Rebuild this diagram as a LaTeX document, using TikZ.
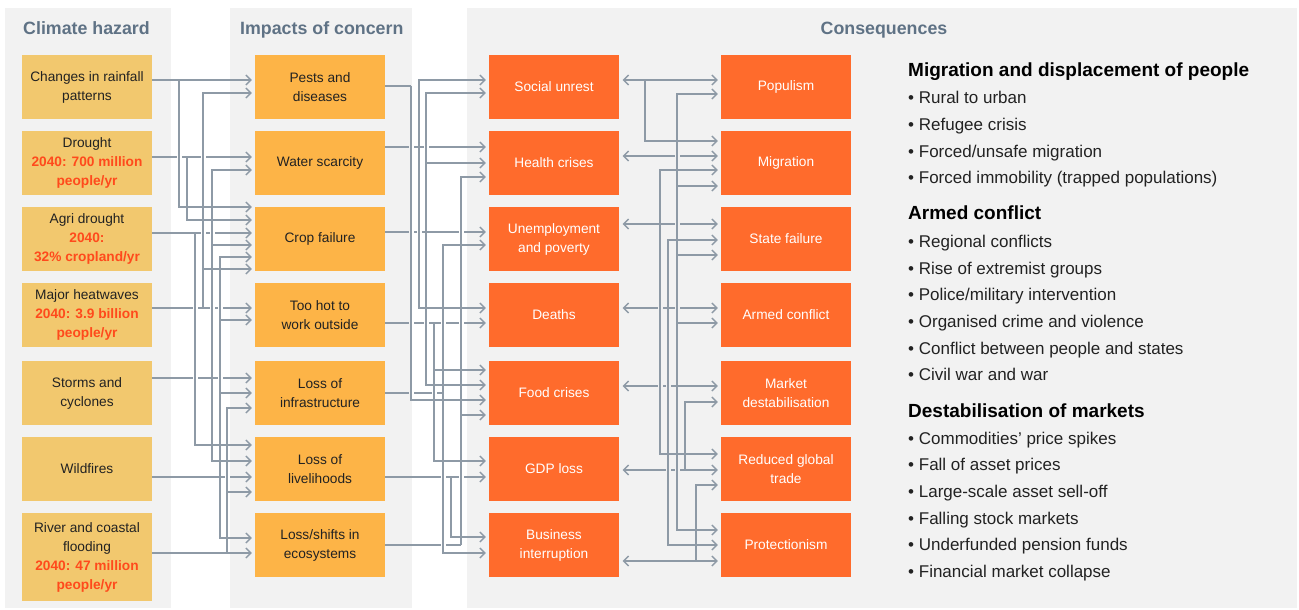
\documentclass[tikz,border=0pt]{standalone}
\usepackage{fontspec}
\setmainfont{Liberation Sans}
\usetikzlibrary{arrows.meta}
\definecolor{panel}{HTML}{F2F2F2}
\definecolor{hzc}{HTML}{F2C86E}
\definecolor{imc}{HTML}{FDB447}
\definecolor{csc}{HTML}{FF6B2C}
\definecolor{redt}{HTML}{FF4A1C}
\definecolor{headc}{HTML}{5F7285}
\definecolor{conn}{HTML}{8E9AA6}
\definecolor{txt}{HTML}{222222}
\newcommand\redl[1]{{\color{redt}\bfseries #1}}
\def\brall{179/80/i3/207, 187/157/i3/220, 195/233/i6/445, 203/308/i1/93, 203/308/i3/269, 212/378/i2/170, 212/378/i3/245, 212/378/i6/461, 220/477/i3/257, 220/477/i4/320, 220/477/i5/393, 220/477/i7/538, 227/553/i5/408, 227/553/i6/492, 411/86/c5/400, 419/147/c1/80, 419/147/c4/308, 426/232/c1/93, 426/232/c2/163, 426/232/c5/385, 434/323/c5/370, 434/323/c6/461, 443/393/c3/245, 443/393/c7/553, 451/477/c7/537, 461/545/c2/177, 461/545/c5/415, 645/80/d2/141, 660/224/d2/170, 660/224/d6/454, 668/308/d3/240, 668/308/d7/545, 677/386/d1/94, 677/386/d2/186, 677/386/d3/255, 677/386/d4/323, 677/386/d7/530, 685/470/d5/402, 696/561/d6/485}
\begin{document}
\begin{tikzpicture}[x=1pt,y=-1pt,
  box/.style={minimum width=130pt, minimum height=64pt, inner sep=0pt, align=center, font=\fontsize{13.7}{19}\selectfont},
  hz/.style={box, fill=hzc, text=txt},
  im/.style={box, fill=imc, text=txt},
  cs/.style={box, fill=csc, text=white},
  head/.style={anchor=base west, inner sep=0pt, font=\fontsize{17.8}{20}\selectfont\bfseries, text=headc},
  ttl/.style={anchor=base west, inner sep=0pt, font=\fontsize{19}{22}\selectfont\bfseries, text=black},
  bul/.style={anchor=base west, inner sep=0pt, font=\fontsize{17}{20}\selectfont, text=txt},
  ln/.style={draw=conn, line width=1.4pt},
  arr/.style={ln, -{Straight Barb[length=5pt,width=10pt]}, shorten >=3pt},
  darr/.style={ln, {Straight Barb[length=5pt,width=10pt]}-{Straight Barb[length=5pt,width=10pt]}, shorten >=3pt, shorten <=3.5pt},
  eras/.style={line width=5pt, shorten <=3pt, shorten >=3pt}
]
\useasboundingbox (0,0) rectangle (1299,610);
% panels
\fill[panel] (5,8) rectangle (171,608);
\fill[panel] (230,8) rectangle (412,608);
\fill[panel] (467,8) rectangle (1297,608);
% headings
\node[head] (t1) at (23,34.5) {Climate hazard};
\node[head] (t2) at (240,34.5) {Impacts of concern};
\node[head, anchor=base] (t3) at (884,34.5) {Consequences};
% column 1
\node[hz] (h1) at (87,87) {Changes in rainfall\\patterns};
\node[hz] (h2) at (87,163) {Drought\\\redl{2040: 700 million}\\\redl{people/yr}};
\node[hz] (h3) at (87,239) {Agri drought\\\redl{2040:}\\\redl{32\% cropland/yr}};
\node[hz] (h4) at (87,315) {Major heatwaves\\\redl{2040: 3.9 billion}\\\redl{people/yr}};
\node[hz] (h5) at (87,393) {Storms and\\cyclones};
\node[hz] (h6) at (87,469) {Wildfires};
\node[hz, minimum height=88pt] (h7) at (87,557) {River and coastal\\flooding\\\redl{2040: 47 million}\\\redl{people/yr}};
% column 2
\node[im] (i1) at (320,87) {Pests and\\diseases};
\node[im] (i2) at (320,163) {Water scarcity};
\node[im] (i3) at (320,239) {Crop failure};
\node[im] (i4) at (320,315) {Too hot to\\work outside};
\node[im] (i5) at (320,393) {Loss of\\infrastructure};
\node[im] (i6) at (320,469) {Loss of\\livelihoods};
\node[im] (i7) at (320,545) {Loss/shifts in\\ecosystems};
% column 3
\node[cs] (c1) at (554,87) {Social unrest};
\node[cs] (c2) at (554,163) {Health crises};
\node[cs] (c3) at (554,239) {Unemployment\\and poverty};
\node[cs] (c4) at (554,315) {Deaths};
\node[cs] (c5) at (554,393) {Food crises};
\node[cs] (c6) at (554,469) {GDP loss};
\node[cs] (c7) at (554,545) {Business\\interruption};
% column 4
\node[cs] (d1) at (786,87) {Populism};
\node[cs] (d2) at (786,163) {Migration};
\node[cs] (d3) at (786,239) {State failure};
\node[cs] (d4) at (786,315) {Armed conflict};
\node[cs] (d5) at (786,393) {Market\\destabilisation};
\node[cs] (d6) at (786,469) {Reduced global\\trade};
\node[cs] (d7) at (786,545) {Protectionism};
% direct connectors
\foreach \s/\t/\y in {h1/i1/80, h2/i2/157, h3/i3/233, h4/i4/308, h5/i5/378, h6/i6/477, h7/i7/553, i2/c2/147, i3/c3/232, i4/c4/323, i6/c6/477}
  \draw[arr] (\s.east |- 0,\y) -- (\t.west |- 0,\y);
\foreach \s/\tx/\y in {i1/411/86, i5/443/393, i7/461/545}
  \draw[ln] (\s.east |- 0,\y) -- (\tx,\y);
\foreach \s/\t/\y in {c1/d1/80, c2/d2/156, c3/d3/224, c4/d4/308, c5/d5/386, c6/d6/470, c7/d7/561}
  \draw[darr] (\s.east |- 0,\y) -- (\t.west |- 0,\y);
% gaps at crossings
\begin{scope}
  \clip (5,8) rectangle (171,608) (230,8) rectangle (412,608) (467,8) rectangle (1297,608);
  \foreach \tx/\ys/\t/\yt in \brall
    \draw[eras, draw=panel] (\tx,\ys) |- (\t.west |- 0,\yt);
\end{scope}
\begin{scope}
  \clip (171,8) rectangle (230,608) (412,8) rectangle (467,608);
  \foreach \tx/\ys/\t/\yt in \brall
    \draw[eras, draw=white] (\tx,\ys) |- (\t.west |- 0,\yt);
\end{scope}
% branch connectors
\foreach \tx/\ys/\t/\yt in \brall
  \draw[arr] (\tx,\ys) |- (\t.west |- 0,\yt);
% right-hand lists
\node[ttl] (m0) at (908,77) {Migration and displacement of people};
\node[bul] (m1) at (908,103) {•\ Rural to urban};
\node[bul] (m2) at (908,130) {•\ Refugee crisis};
\node[bul] (m3) at (908,157) {•\ Forced/unsafe migration};
\node[bul] (m4) at (908,183.5) {•\ Forced immobility (trapped populations)};
\node[ttl] (a0) at (908,219.5) {Armed conflict};
\node[bul] (a1) at (908,247) {•\ Regional conflicts};
\node[bul] (a2) at (908,274) {•\ Rise of extremist groups};
\node[bul] (a3) at (908,300.5) {•\ Police/military intervention};
\node[bul] (a4) at (908,327.5) {•\ Organised crime and violence};
\node[bul] (a5) at (908,354) {•\ Conflict between people and states};
\node[bul] (a6) at (908,380.5) {•\ Civil war and war};
\node[ttl] (k0) at (908,417) {Destabilisation of markets};
\node[bul] (k1) at (908,444.5) {•\ Commodities’ price spikes};
\node[bul] (k2) at (908,470.5) {•\ Fall of asset prices};
\node[bul] (k3) at (908,497.5) {•\ Large-scale asset sell-off};
\node[bul] (k4) at (908,524) {•\ Falling stock markets};
\node[bul] (k5) at (908,550.5) {•\ Underfunded pension funds};
\node[bul] (k6) at (908,577.5) {•\ Financial market collapse};
\end{tikzpicture}
\end{document}
